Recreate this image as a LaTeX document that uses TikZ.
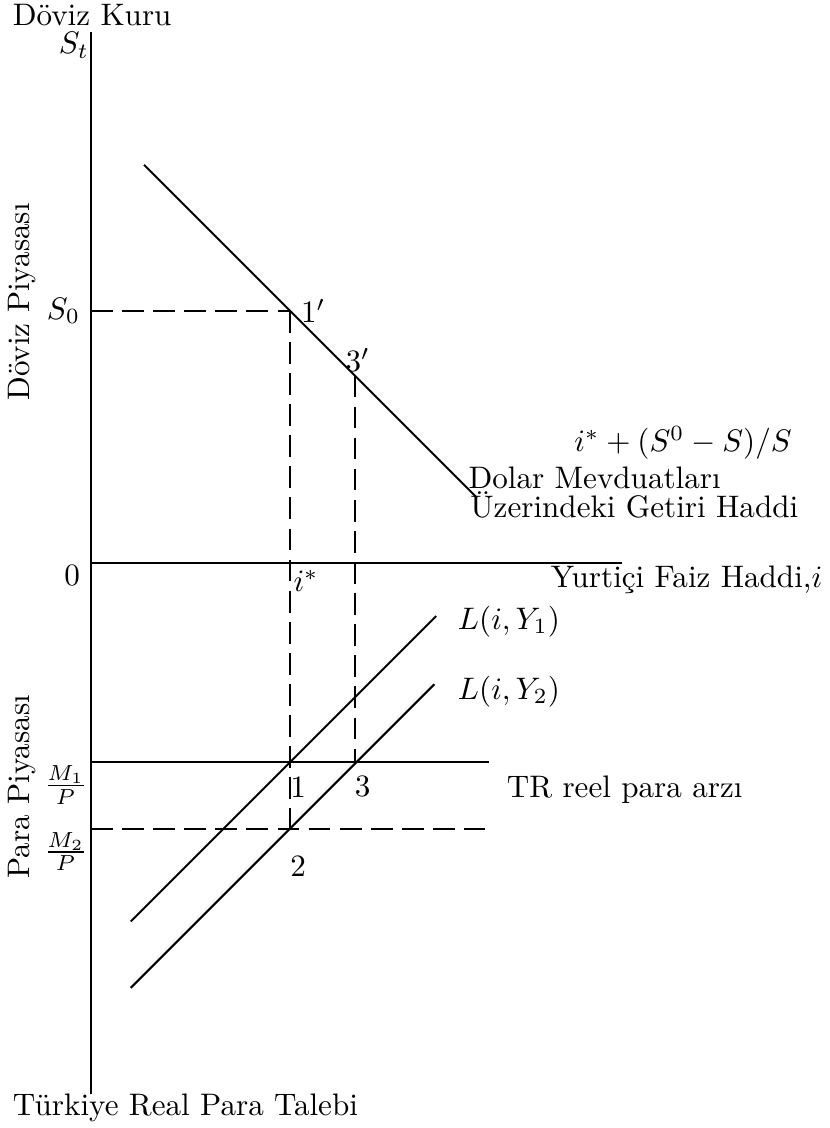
\documentclass[tikz,border=0pt]{standalone}
\usepackage{fontspec}
\usepackage{amsmath}
\usetikzlibrary{positioning, calc}
\tikzset{
  axis_line/.style={line width=0.65pt, black},
  curve_line/.style={line width=0.65pt, black},
  guide_line/.style={line width=0.65pt, black, dash pattern=on 7pt off 3pt},
  side_label/.style={rotate=90},
  text_label/.style={anchor=west, inner sep=0pt},
  point_label/.style={inner sep=0pt}
}

\begin{document}
\begin{tikzpicture}
  \useasboundingbox (-1.028,-6.384) rectangle (8.350,6.362);

  % Axes
  \coordinate (origin) at (0,0);
  \coordinate (s_top) at (0,6);
  \coordinate (l_bottom) at (0,-6);
  \coordinate (i_end) at (6,0);
  \draw[axis_line] (s_top) -- (l_bottom);
  \draw[axis_line] (origin) -- (i_end);

  % Key points
  \coordinate (p1p) at (2.25,2.85);
  \coordinate (p3p) at (2.98,2.12);
  \coordinate (p1) at (2.25,-2.25);
  \coordinate (p3) at (2.98,-2.25);
  \coordinate (p2) at (2.25,-3);
  \coordinate (s0) at (0,2.85);
  \coordinate (m1) at (0,-2.25);
  \coordinate (m2) at (0,-3);

  % Return on dollar deposits
  \coordinate (uip_a) at (0.6,4.5);
  \coordinate (uip_b) at (4.35,0.75);
  \draw[curve_line] (uip_a) -- (uip_b);

  % Money demand curves
  \coordinate (ly1_a) at (0.45,-4.05);
  \coordinate (ly1_b) at (3.9,-0.6);
  \coordinate (ly2_a) at (0.45,-4.8);
  \coordinate (ly2_b) at (3.88,-1.37);
  \draw[curve_line] (ly1_a) -- (ly1_b);
  \draw[curve_line] (ly2_a) -- (ly2_b);

  % Money supply
  \coordinate (m1_end) at (4.5,-2.25);
  \coordinate (m2_end) at (4.45,-3);
  \draw[curve_line] (m1) -- (m1_end);
  \draw[guide_line] (m2) -- (m2_end);

  % Guides
  \draw[guide_line] (s0) -- (p1p);
  \draw[guide_line] (p1p) -- (p2);
  \draw[guide_line] (p3p) -- (p3);

  % Axis labels
  \node[text_label] (kuru) at (-0.89,6.19) {Döviz Kuru};
  \node[anchor=east, inner sep=0.5pt] (st) at (0,5.85) {$S_t$};
  \node[text_label] (talep) at (-0.89,-6.16) {Türkiye Real Para Talebi};
  \node[side_label] (doviz) at (-0.78,2.95) {Döviz Piyasası};
  \node[side_label] (para) at (-0.78,-2.53) {Para Piyasası};
  \node[left] (s0_lbl) at (s0) {$S_0$};
  \node[left] (zero) at (0,-0.14) {0};
  \node[below left, inner sep=1pt] (m1_lbl) at (m1) {$\frac{M_1}{P}$};
  \node[below left, inner sep=1pt] (m2_lbl) at (m2) {$\frac{M_2}{P}$};
  \node[point_label] (faiz) at (6.73,-0.19) {Yurtiçi Faiz Haddi,$i$};

  % Point labels
  \node[right] (l1p) at (p1p) {$1'$};
  \node[above, inner sep=1pt, xshift=1pt] (l3p) at (p3p) {$3'$};
  \node[point_label] (istar) at (2.43,-0.2) {$i^{*}$};
  \node[point_label] (l1) at (2.34,-2.53) {1};
  \node[point_label] (l3) at (3.07,-2.53) {3};
  \node[point_label] (l2) at (2.34,-3.42) {2};

  % Curve labels
  \node[point_label] (uip_lbl) at (6.69,1.36) {$i^{*}+(S^{0}-S)/S$};
  \node[text_label] (dolar) at (4.26,0.96) {Dolar Mevduatları};
  \node[text_label] (getiri) at (4.28,0.66) {Üzerindeki Getiri Haddi};
  \node[text_label] (ly1_lbl) at (4.14,-0.66) {$L(i,Y_1)$};
  \node[text_label] (ly2_lbl) at (4.14,-1.45) {$L(i,Y_2)$};
  \node[point_label] (arz) at (6.03,-2.56) {TR reel para arzı};
\end{tikzpicture}
\end{document}
